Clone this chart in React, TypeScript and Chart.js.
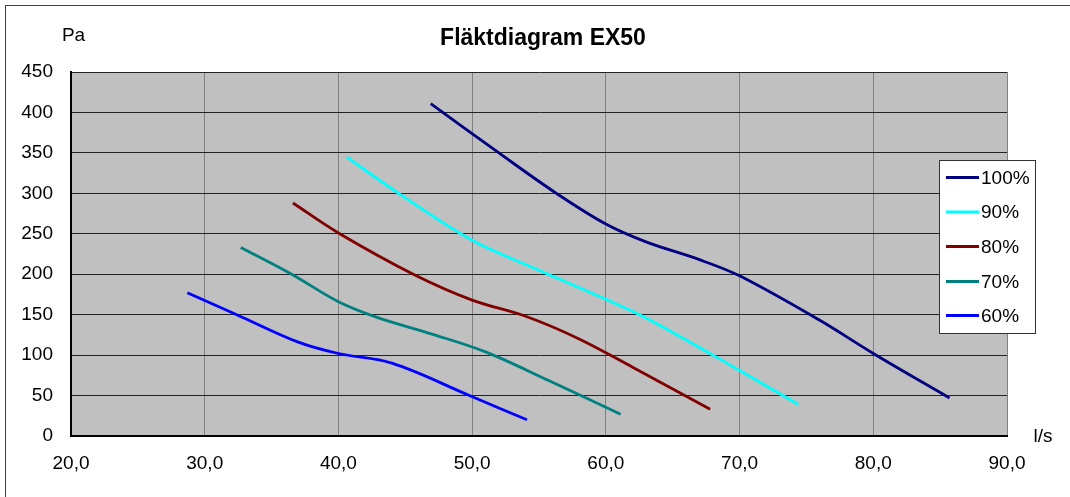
import React, { useEffect, useRef } from "react";
import { Chart, registerables } from "chart.js";

Chart.register(...registerables);

const chartTitle = "Fläktdiagram EX50";
const yUnit = "Pa";
const xUnit = "l/s";

const seriesLabels = ["100%", "90%", "80%", "70%", "60%"];
const seriesColors = ["#000080", "#00FFFF", "#800000", "#008080", "#0000FF"];

const flow100 = [46.9, 52.0, 56.3, 60.0, 63.0, 67.0, 70.0, 76.0, 80.0, 85.7];
const pres100 = [411, 350, 300, 262, 240, 218, 198, 143, 102, 47];

const flow90 = [40.6, 44.5, 50.0, 55.0, 60.0, 63.0, 68.0, 74.4];
const pres90 = [345, 300, 242, 205, 169, 146, 100, 39];

const flow80 = [36.6, 40.0, 45.6, 50.0, 54.0, 58.0, 62.0, 67.8];
const pres80 = [288, 251, 200, 168, 148, 120, 85, 33];

const flow70 = [32.7, 36.5, 40.0, 43.0, 47.0, 51.0, 55.8, 61.1];
const pres70 = [233, 200, 166, 146, 126, 104, 68, 27];

const flow60 = [28.7, 32.4, 37.0, 40.0, 44.0, 49.8, 54.1];
const pres60 = [177, 150, 116, 102, 90, 50, 20];

const xTicks = [20, 30, 40, 50, 60, 70, 80, 90];
const yTicks = [0, 50, 100, 150, 200, 250, 300, 350, 400, 450];

const flows = [flow100, flow90, flow80, flow70, flow60];
const pressures = [pres100, pres90, pres80, pres70, pres60];

const FONT = "'Liberation Sans', Arial, sans-serif";

export default function App() {
  const ref = useRef<HTMLCanvasElement | null>(null);

  useEffect(() => {
    if (!ref.current) return;
    const decor = {
      id: "decor",
      beforeDraw(chart: any) {
        const { ctx, chartArea: a } = chart;
        ctx.save();
        ctx.fillStyle = "#ffffff";
        ctx.fillRect(0, 0, chart.width, chart.height);
        ctx.fillStyle = "#C0C0C0";
        ctx.fillRect(a.left, a.top, a.right - a.left, a.bottom - a.top);
        ctx.restore();
      },
      afterDraw(chart: any) {
        const { ctx } = chart;
        ctx.save();
        // outer border
        ctx.strokeStyle = "#404040";
        ctx.lineWidth = 1;
        ctx.strokeRect(5.5, 5.5, 1100, 600);
        // title
        ctx.fillStyle = "#000";
        ctx.font = `bold 23px ${FONT}`;
        ctx.textAlign = "center";
        ctx.textBaseline = "middle";
        ctx.fillText(chartTitle, 543, 39);
        // unit labels
        ctx.font = `19px ${FONT}`;
        ctx.fillText(yUnit, 73.5, 36);
        ctx.fillText(xUnit, 1043, 437);
        // legend
        const lx = 939.5, ly = 160.5, lw = 96, lh = 173;
        ctx.fillStyle = "#ffffff";
        ctx.fillRect(lx, ly, lw, lh);
        ctx.strokeStyle = "#333";
        ctx.lineWidth = 1;
        ctx.strokeRect(lx, ly, lw, lh);
        const rowY = [177.5, 212, 246.5, 281.5, 315.5];
        chart.data.datasets.forEach((ds: any, i: number) => {
          const y = rowY[i];
          ctx.strokeStyle = ds.borderColor;
          ctx.lineWidth = 3;
          ctx.beginPath();
          ctx.moveTo(946, y);
          ctx.lineTo(979, y);
          ctx.stroke();
          ctx.fillStyle = "#000";
          ctx.textAlign = "left";
          ctx.textBaseline = "middle";
          ctx.font = `19px ${FONT}`;
          ctx.fillText(ds.label, 981, y + 1);
        });
        ctx.restore();
      },
    };

    const chart = new Chart(ref.current, {
      type: "scatter",
      data: {
        datasets: seriesLabels.map((label, i) => ({
          label,
          data: flows[i].map((x, j) => ({ x, y: pressures[i][j] })),
          showLine: true,
          borderColor: seriesColors[i],
          backgroundColor: seriesColors[i],
          borderWidth: 2.8,
          pointRadius: 0,
          pointHoverRadius: 0,
          tension: 0.35,
          fill: false,
        })),
      },
      options: {
        responsive: false,
        animation: false,
        events: [],
        layout: { padding: { left: 0, right: 63, top: 72, bottom: 0 } },
        plugins: {
          legend: { display: false },
          title: { display: false },
          tooltip: { enabled: false },
        },
        scales: {
          x: {
            type: "linear",
            min: 20,
            max: 90,
            afterFit(scale: any) {
              scale.height = 61;
            },
            afterBuildTicks(scale: any) {
              scale.ticks = xTicks.map((v) => ({ value: v }));
            },
            ticks: {
              padding: 16,
              color: "#000",
              font: { family: FONT, size: 19 },
              maxRotation: 0,
              autoSkip: false,
              callback: (v: any) => Number(v).toFixed(1).replace(".", ","),
            },
            grid: { color: "#808080", lineWidth: 1, drawTicks: false },
            border: { color: "#000", width: 2 },
          },
          y: {
            type: "linear",
            min: 0,
            max: 450,
            afterFit(scale: any) {
              scale.width = 71;
            },
            afterBuildTicks(scale: any) {
              scale.ticks = yTicks.map((v) => ({ value: v }));
            },
            ticks: {
              padding: 18,
              color: "#000",
              font: { family: FONT, size: 19 },
              autoSkip: false,
              callback: (v: any) => String(v),
            },
            grid: { color: "#222", lineWidth: 1, drawTicks: false },
            border: { color: "#000", width: 2 },
          },
        },
      },
      plugins: [decor],
    } as any);
    return () => chart.destroy();
  }, []);

  return (
    <div style={{ position: "absolute", left: 0, top: 0, width: 1070, height: 497 }}>
      <canvas ref={ref} width={1070} height={497} style={{ width: 1070, height: 497 }} />
    </div>
  );
}
